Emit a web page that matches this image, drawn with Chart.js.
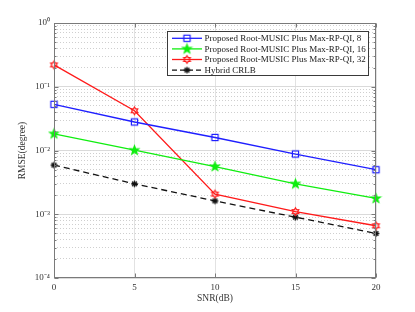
<!DOCTYPE html>
<html><head><meta charset="utf-8">
<script src="https://cdn.jsdelivr.net/npm/chart.js@4/dist/chart.umd.min.js"></script>
<style>html,body{margin:0;padding:0;background:#fff}#wrap{width:415px;height:312px;position:relative}</style>
</head><body><div id="wrap"><canvas id="c" width="415" height="312"></canvas></div>
<script>
const snr = [0, 5, 10, 15, 20];
const rmse8 = [0.053, 0.028, 0.016, 0.0088, 0.005];
const rmse16 = [0.0183, 0.0101, 0.0056, 0.0030, 0.00177];
const rmse32 = [0.22, 0.042, 0.00207, 0.0011, 0.00066];
const crlb = [0.0059, 0.0030, 0.00162, 0.0009, 0.0005];
const seriesLabels = [
  'Proposed Root-MUSIC Plus Max-RP-QI, 8',
  'Proposed Root-MUSIC Plus Max-RP-QI, 16',
  'Proposed Root-MUSIC Plus Max-RP-QI, 32',
  'Hybrid CRLB'
];
const xTicks = [0, 5, 10, 15, 20];
const yDecades = [1e-4, 1e-3, 1e-2, 1e-1, 1];
const yTickLabels = ['10\u207B\u2074', '10\u207B\u00B3', '10\u207B\u00B2', '10\u207B\u00B9', '10\u2070'];
const xTitle = 'SNR(dB)';
const yTitle = 'RMSE(degree)';

const FONT = "'Liberation Serif', 'Times New Roman', serif";

function marker(kind, color) {
  const c = document.createElement('canvas');
  c.width = 13; c.height = 13;
  const g = c.getContext('2d');
  g.translate(6.5, 6.5);
  g.strokeStyle = color; g.fillStyle = color; g.lineWidth = 1.2;
  if (kind === 'square') {
    g.strokeRect(-3.1, -3.1, 6.2, 6.2);
  } else if (kind === 'pentagram') {
    g.beginPath();
    for (let i = 0; i < 10; i++) {
      const r = i % 2 === 0 ? 4.6 : 1.9;
      const a = -Math.PI / 2 + i * Math.PI / 5;
      const px = r * Math.cos(a), py = r * Math.sin(a);
      i === 0 ? g.moveTo(px, py) : g.lineTo(px, py);
    }
    g.closePath(); g.fill(); g.stroke();
  } else if (kind === 'hexagram') {
    g.beginPath();
    for (let i = 0; i < 12; i++) {
      const r = i % 2 === 0 ? 3.8 : 2.2;
      const a = -Math.PI / 2 + i * Math.PI / 6;
      const px = r * Math.cos(a), py = r * Math.sin(a);
      i === 0 ? g.moveTo(px, py) : g.lineTo(px, py);
    }
    g.closePath(); g.stroke();
  } else if (kind === 'asterisk') {
    g.lineWidth = 1.3;
    g.beginPath();
    for (let i = 0; i < 4; i++) {
      const a = i * Math.PI / 4;
      g.moveTo(-3.3 * Math.cos(a), -3.3 * Math.sin(a));
      g.lineTo(3.3 * Math.cos(a), 3.3 * Math.sin(a));
    }
    g.stroke();
    g.beginPath(); g.arc(0, 0, 1.8, 0, Math.PI * 2); g.fill();
  }
  return c;
}

const styles = [
  { color: '#1f1fff', m: marker('square', '#1f1fff'), dash: [] },
  { color: '#10ee10', m: marker('pentagram', '#10ee10'), dash: [] },
  { color: '#ff1a1a', m: marker('hexagram', '#ff1a1a'), dash: [] },
  { color: '#111111', m: marker('asterisk', '#111111'), dash: [6, 4] }
];
const series = [rmse8, rmse16, rmse32, crlb];

const datasets = series.map((vals, i) => ({
  label: seriesLabels[i],
  data: snr.map((x, j) => ({ x: x, y: vals[j] })),
  borderColor: styles[i].color,
  backgroundColor: styles[i].color,
  borderWidth: 1.3,
  borderDash: styles[i].dash,
  pointStyle: styles[i].m,
  pointRadius: 4,
  pointHoverRadius: 4,
  tension: 0,
  clip: false
}));

function isDecade(v) {
  const l = Math.log10(v);
  return Math.abs(l - Math.round(l)) < 1e-6;
}

const framePlugin = {
  id: 'frame',
  afterDatasetsDraw(chart) {
    const { ctx, chartArea: a, scales } = chart;
    ctx.save();
    ctx.strokeStyle = '#7a7a7a';
    ctx.lineWidth = 1;
    const L = Math.round(a.left) + 0.5, R = Math.round(a.right) - 0.5;
    const T = Math.round(a.top) + 0.5, B = Math.round(a.bottom) - 0.5;
    ctx.strokeRect(L, T, R - L, B - T);
    ctx.beginPath();
    scales.y.ticks.forEach(t => {
      const y = Math.round(scales.y.getPixelForValue(t.value)) + 0.5;
      const len = isDecade(t.value) ? 4 : 2;
      ctx.moveTo(L, y); ctx.lineTo(L + len, y);
      ctx.moveTo(R, y); ctx.lineTo(R - len, y);
    });
    scales.x.ticks.forEach(t => {
      const x = Math.round(scales.x.getPixelForValue(t.value)) + 0.5;
      ctx.moveTo(x, B); ctx.lineTo(x, B - 4);
      ctx.moveTo(x, T); ctx.lineTo(x, T + 4);
    });
    ctx.stroke();
    ctx.restore();
  },
  afterDraw(chart) {
    const { ctx } = chart;
    const bx = 167.5, by = 31.5, bw = 201, bh = 44;
    ctx.save();
    ctx.fillStyle = '#ffffff';
    ctx.fillRect(bx, by, bw, bh);
    ctx.strokeStyle = '#3a3a3a';
    ctx.lineWidth = 1;
    ctx.strokeRect(bx, by, bw, bh);
    ctx.font = '9px ' + FONT;
    ctx.textBaseline = 'middle';
    ctx.textAlign = 'left';
    chart.data.datasets.forEach((ds, i) => {
      const cy = 38.3 + i * 10.6;
      ctx.strokeStyle = styles[i].color;
      ctx.lineWidth = 1.3;
      ctx.setLineDash(styles[i].dash.length ? [5, 3] : []);
      ctx.beginPath(); ctx.moveTo(172, cy); ctx.lineTo(202, cy); ctx.stroke();
      ctx.setLineDash([]);
      const m = styles[i].m;
      ctx.drawImage(m, 187 - m.width / 2, cy - m.height / 2);
      ctx.fillStyle = '#1a1a1a';
      ctx.fillText(ds.label, 204.5, cy + 0.5);
    });
    ctx.restore();
  }
};

new Chart(document.getElementById('c'), {
  type: 'line',
  data: { datasets: datasets },
  plugins: [framePlugin],
  options: {
    responsive: false,
    animation: false,
    devicePixelRatio: 1,
    layout: { padding: { top: 23, right: 39, left: 0, bottom: 0 } },
    plugins: { legend: { display: false }, tooltip: { enabled: false } },
    scales: {
      x: {
        type: 'linear', min: 0, max: 20,
        afterBuildTicks: s => { s.ticks = xTicks.map(v => ({ value: v })); },
        afterFit: s => { s.height = 34; },
        grid: { color: '#e2e2e2', lineWidth: 1, drawTicks: false },
        border: { display: false },
        ticks: { padding: 4, color: '#333', font: { family: FONT, size: 9 }, maxRotation: 0, callback: v => String(v) },
        title: { display: true, text: xTitle, color: '#333', font: { family: FONT, size: 9.5 }, padding: { top: 0, bottom: 7.5 } }
      },
      y: {
        type: 'logarithmic', min: 1e-4, max: 1,
        afterBuildTicks: s => {
          const t = [];
          for (let k = -4; k < 0; k++) for (let n = 1; n <= 9; n++) t.push({ value: n * Math.pow(10, k) });
          t.push({ value: 1 });
          s.ticks = t;
        },
        afterFit: s => { s.width = 54; },
        grid: {
          color: c => isDecade(c.tick.value) ? '#dadada' : '#cfcfcf',
          lineWidth: 1, drawTicks: false
        },
        border: { display: false, dash: c => (c.tick && !isDecade(c.tick.value)) ? [1, 2] : [] },
        ticks: {
          autoSkip: false, padding: 4, color: '#333', font: { family: FONT, size: 9 },
          callback: v => { const i = yDecades.findIndex(d => Math.abs(d - v) / d < 1e-6); return i >= 0 ? yTickLabels[i] : ''; }
        },
        title: { display: true, text: yTitle, color: '#333', font: { family: FONT, size: 9.5 }, padding: { top: 17, bottom: 0 } }
      }
    }
  }
});
</script>
</body></html>
